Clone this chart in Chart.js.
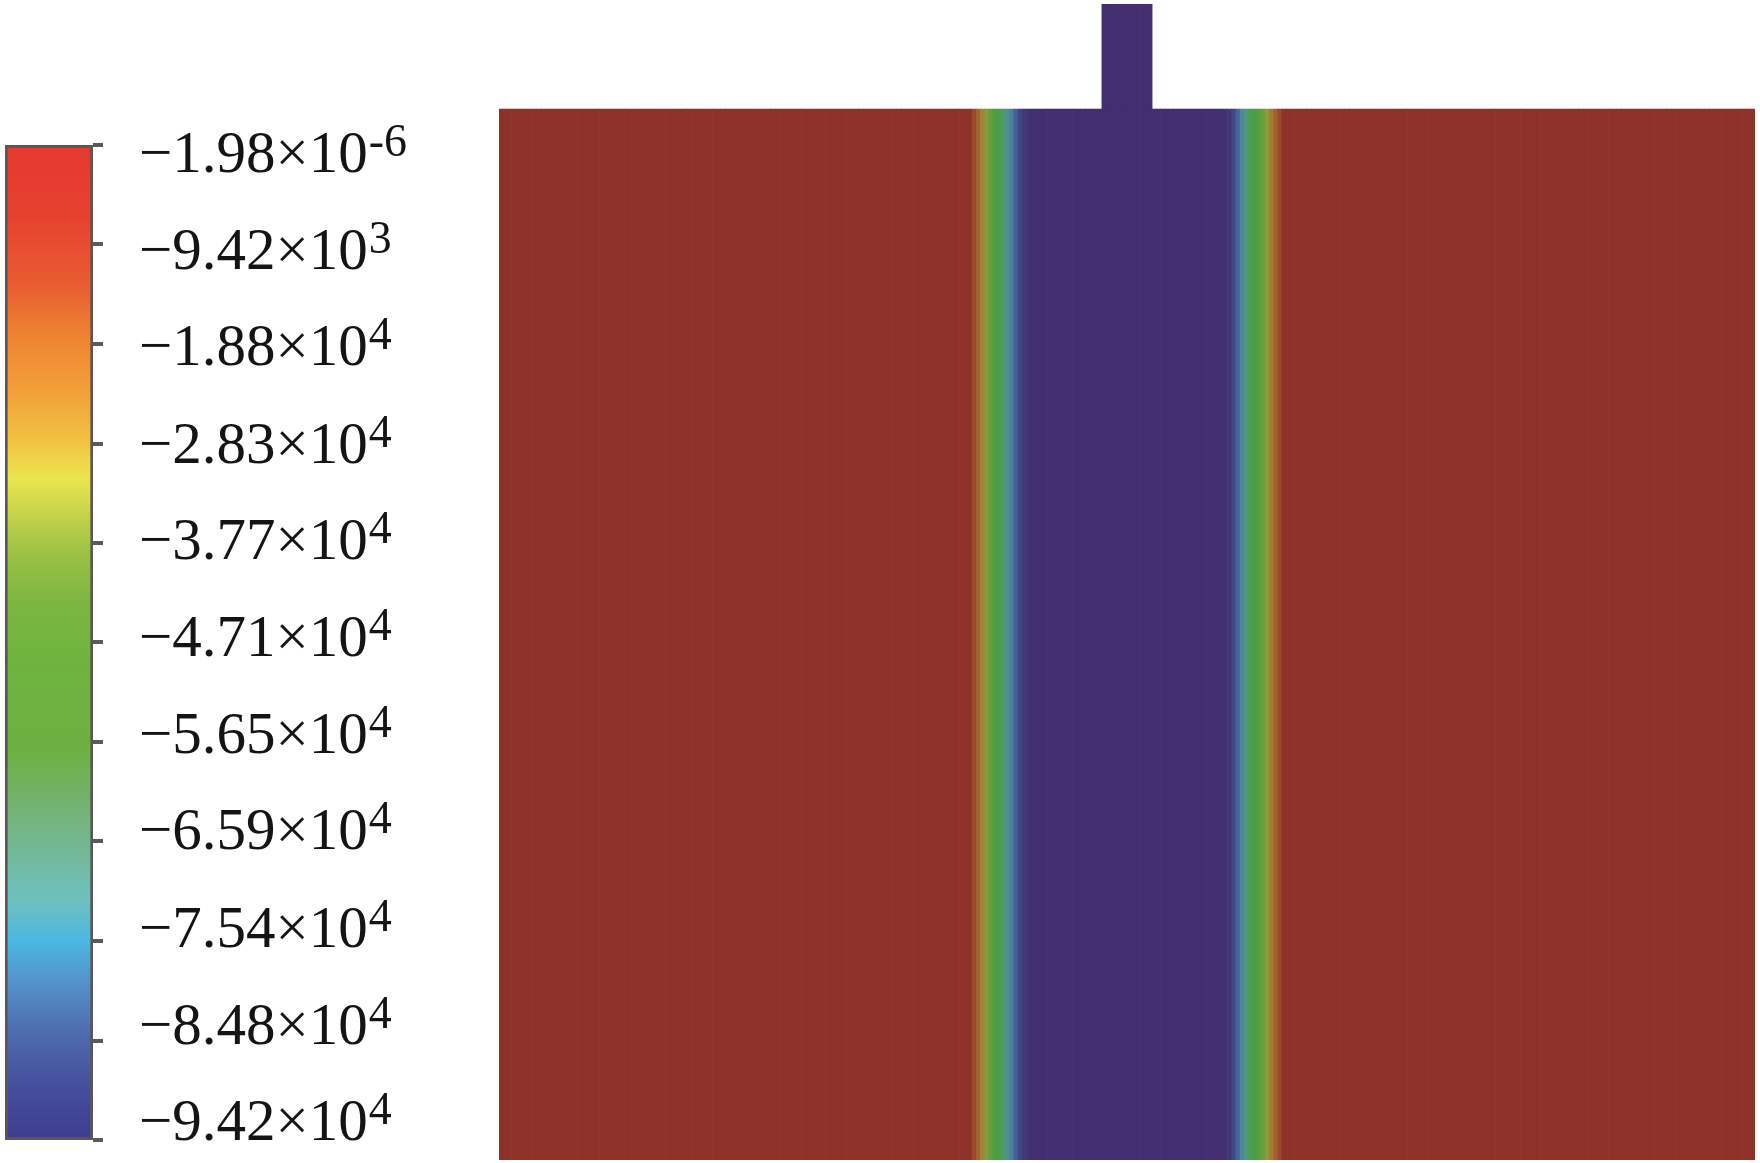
<!DOCTYPE html>
<html>
<head>
<meta charset="utf-8">
<script src="https://cdn.jsdelivr.net/npm/chart.js@4.4.1/dist/chart.umd.min.js"></script>
<style>
  html, body { margin: 0; padding: 0; background: #fff; }
  #wrap { position: relative; width: 1760px; height: 1163px; }
  #barBox { position: absolute; left: 0; top: 0; width: 480px; height: 1163px; }
  #fieldBox { position: absolute; left: 480px; top: 0; width: 1280px; height: 1163px; }
</style>
</head>
<body>
<div id="wrap">
  <div id="barBox"><canvas id="colorbar"></canvas></div>
  <div id="fieldBox"><canvas id="field"></canvas></div>
</div>
<script>
// colour scale range and its ticks
const maxValue = -1.98e-6;
const minValue = -9.42e4;
const tickValues = [-1.98e-6, -9420, -18800, -28300, -37700, -47100, -56500, -65900, -75400, -84800, -94200];

// field: columns across the domain (x 0..12), value per column
const redValue = -1.98e-6;
const blueValue = -9.42e4;
const redLeftCols = 113;
const leftEdge = [-6600, -14100, -22600, -31100, -39600, -47100, -52800, -59300, -65900, -72500, -79100, -84800, -89500, -92300];
const blueCols = 46;
const rightEdge = [-92300, -89500, -84800, -78000, -70000, -62000, -55000, -49000, -43500, -37000, -29000, -20000, -13000, -6600];
const redRightCols = 113;

// stem on top of the field
const stemFrom = 144;
const stemTo = 156;
const fieldTop = 10;
const stemTop = 11;

let fieldValues = [];
for (let i = 0; i < redLeftCols; i++) fieldValues.push(redValue);
fieldValues = fieldValues.concat(leftEdge);
for (let i = 0; i < blueCols; i++) fieldValues.push(blueValue);
fieldValues = fieldValues.concat(rightEdge);
for (let i = 0; i < redRightCols; i++) fieldValues.push(redValue);

const colW = 12 / fieldValues.length;
const colLabels = fieldValues.map((v, i) => ((i + 0.5) * colW).toFixed(2));

// colours
const barStops = [
  [0, '#E5392F'], [0.07, '#E6412F'], [0.14, '#E85C31'], [0.19, '#EE8232'], [0.25, '#F2A239'],
  [0.30, '#F1C443'], [0.335, '#EAE64E'], [0.37, '#C6D44A'], [0.41, '#9CC145'], [0.46, '#7CB641'],
  [0.52, '#6FB33F'], [0.61, '#6DB042'], [0.66, '#74B26F'], [0.72, '#72BAA0'], [0.76, '#6EC0C0'],
  [0.80, '#4BB7E2'], [0.84, '#5493CB'], [0.89, '#4F6DAF'], [0.945, '#464F9C'], [1, '#3E3D8E']
];
const fieldStops = [
  [0, [66, 46, 112]], [0.08, [64, 62, 128]], [0.16, [70, 95, 150]], [0.25, [78, 135, 160]],
  [0.33, [80, 150, 135]], [0.42, [76, 156, 80]], [0.5, [75, 158, 65]], [0.6, [105, 160, 60]],
  [0.7, [150, 152, 58]], [0.8, [165, 120, 50]], [0.9, [160, 82, 45]], [1, [142, 50, 42]]
];

function fieldColor(v) {
  let t = (v - minValue) / (maxValue - minValue);
  t = Math.max(0, Math.min(1, t));
  for (let i = 1; i < fieldStops.length; i++) {
    if (t <= fieldStops[i][0]) {
      const a = fieldStops[i - 1], b = fieldStops[i];
      const f = (t - a[0]) / (b[0] - a[0]);
      const c = a[1].map((x, k) => Math.round(x + (b[1][k] - x) * f));
      return `rgb(${c[0]},${c[1]},${c[2]})`;
    }
  }
  const c = fieldStops[fieldStops.length - 1][1];
  return `rgb(${c[0]},${c[1]},${c[2]})`;
}

function barGradient(chart) {
  const y = chart.scales.y;
  if (!y || !chart.chartArea) return '#888';
  const y0 = y.getPixelForValue(maxValue);
  const y1 = y.getPixelForValue(minValue);
  if (!isFinite(y0) || !isFinite(y1) || y0 === y1) return '#888';
  const g = chart.ctx.createLinearGradient(0, y0, 0, y1);
  barStops.forEach(s => g.addColorStop(s[0], s[1]));
  return g;
}

// labels like −9.42×10^3 drawn next to the ticks
const sciLabels = {
  id: 'sciLabels',
  afterDraw(chart) {
    const ctx = chart.ctx;
    const y = chart.scales.y;
    ctx.save();
    ctx.fillStyle = '#141414';
    ctx.textBaseline = 'alphabetic';
    tickValues.forEach(v => {
      const parts = Math.abs(v).toExponential(2).split('e');
      const main = '\u2212' + parts[0] + '\u00d710';
      const exp = parts[1].replace('+', '');
      const py = y.getPixelForValue(v);
      const by = y.top + 27 + (py - y.top) * 0.973;
      ctx.font = '59px "Liberation Serif"';
      ctx.fillText(main, 139, by);
      const w = ctx.measureText(main).width;
      ctx.font = '46px "Liberation Serif"';
      ctx.fillText(exp, 139 + w + 1, by - 16);
    });
    ctx.restore();
  }
};

new Chart(document.getElementById('colorbar'), {
  type: 'bar',
  data: {
    labels: ['scale'],
    datasets: [{
      data: [[minValue, maxValue]],
      backgroundColor: ctx => barGradient(ctx.chart),
      borderColor: '#5e5656',
      borderWidth: 3,
      borderSkipped: false,
      barPercentage: 1,
      categoryPercentage: 1
    }]
  },
  options: {
    animation: false,
    responsive: true,
    maintainAspectRatio: false,
    layout: { padding: { left: 5, top: 145, bottom: 23, right: 0 } },
    plugins: { legend: { display: false }, tooltip: { enabled: false } },
    scales: {
      x: { display: false },
      y: {
        position: 'right',
        min: minValue,
        max: maxValue,
        afterBuildTicks: s => { s.ticks = tickValues.map(v => ({ value: v })); },
        afterFit: s => { s.width = 387; },
        ticks: { display: false },
        grid: { drawOnChartArea: false, drawTicks: true, tickLength: 10, color: '#5a5a5a', lineWidth: 4 },
        border: { display: false }
      }
    }
  },
  plugins: [sciLabels]
});

new Chart(document.getElementById('field'), {
  type: 'bar',
  data: {
    labels: colLabels,
    datasets: [{
      data: fieldValues.map(() => [0, fieldTop]),
      backgroundColor: fieldValues.map(fieldColor),
      borderWidth: 0,
      grouped: false,
      barPercentage: 1,
      categoryPercentage: 1
    }, {
      data: fieldValues.map((v, i) => (i >= stemFrom && i < stemTo) ? [fieldTop, stemTop] : null),
      backgroundColor: fieldValues.map(fieldColor),
      borderWidth: 0,
      grouped: false,
      barPercentage: 1,
      categoryPercentage: 1
    }]
  },
  options: {
    animation: false,
    responsive: true,
    maintainAspectRatio: false,
    layout: { padding: { left: 19, right: 5, top: 4, bottom: 3 } },
    plugins: { legend: { display: false }, tooltip: { enabled: false } },
    scales: {
      x: { display: false },
      y: { display: false, min: 0, max: stemTop }
    }
  }
});
</script>
</body>
</html>
